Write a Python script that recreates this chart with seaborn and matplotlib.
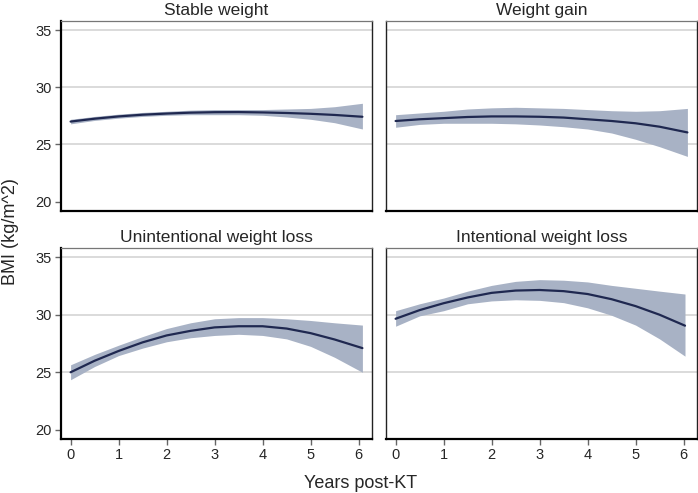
import numpy as np
import pandas as pd
import matplotlib
matplotlib.use("Agg")
import matplotlib.pyplot as plt
import seaborn as sns

# values
panels = ["Stable weight", "Weight gain", "Unintentional weight loss", "Intentional weight loss"]
years = [0, 0.5, 1, 1.5, 2, 2.5, 3, 3.5, 4, 4.5, 5, 5.5, 6.08]
years_int = [0, 0.5, 1, 1.5, 2, 2.5, 3, 3.5, 4, 4.5, 5, 5.5, 6.03]

stable_fit = [27.0, 27.25, 27.45, 27.6, 27.7, 27.78, 27.82, 27.83, 27.8, 27.75, 27.68, 27.58, 27.42]
stable_lo = [26.8, 27.1, 27.3, 27.45, 27.55, 27.6, 27.6, 27.6, 27.55, 27.4, 27.2, 26.9, 26.35]
stable_hi = [27.2, 27.45, 27.65, 27.8, 27.9, 28.0, 28.05, 28.05, 28.05, 28.1, 28.15, 28.3, 28.6]

gain_fit = [27.05, 27.2, 27.3, 27.4, 27.45, 27.45, 27.42, 27.35, 27.2, 27.05, 26.85, 26.55, 26.05]
gain_lo = [26.5, 26.75, 26.85, 26.85, 26.85, 26.8, 26.7, 26.55, 26.35, 26.0, 25.45, 24.8, 23.95]
gain_hi = [27.6, 27.75, 27.9, 28.1, 28.2, 28.25, 28.2, 28.15, 28.05, 27.95, 27.9, 27.95, 28.15]

unint_fit = [25.0, 26.0, 26.85, 27.6, 28.2, 28.6, 28.9, 29.0, 29.0, 28.8, 28.4, 27.85, 27.1]
unint_lo = [24.35, 25.5, 26.45, 27.1, 27.65, 28.0, 28.2, 28.3, 28.2, 27.9, 27.25, 26.3, 25.0]
unint_hi = [25.65, 26.55, 27.35, 28.1, 28.8, 29.3, 29.65, 29.75, 29.75, 29.65, 29.5, 29.3, 29.1]

int_fit = [29.65, 30.4, 31.0, 31.5, 31.9, 32.1, 32.15, 32.05, 31.8, 31.35, 30.75, 30.0, 29.05]
int_lo = [29.0, 29.9, 30.35, 30.95, 31.2, 31.3, 31.25, 31.05, 30.6, 29.95, 29.1, 27.9, 26.4]
int_hi = [30.35, 30.95, 31.45, 32.05, 32.55, 32.9, 33.05, 33.0, 32.85, 32.55, 32.3, 32.05, 31.8]

rows = []
for name, xs, fit, lo, hi in [
    (panels[0], years, stable_fit, stable_lo, stable_hi),
    (panels[1], years, gain_fit, gain_lo, gain_hi),
    (panels[2], years, unint_fit, unint_lo, unint_hi),
    (panels[3], years_int, int_fit, int_lo, int_hi),
]:
    for x, f, l, h in zip(xs, fit, lo, hi):
        rows.append({"panel": name, "years": x, "bmi": f, "lo": l, "hi": h})
df = pd.DataFrame(rows)

sns.set_style("white")
plt.rcParams["font.family"] = ["Liberation Sans", "DejaVu Sans"]

W, H = 698, 493
fig = plt.figure(figsize=(W / 100, H / 100), dpi=100)

# panel boxes in pixels: (left, top, right, bottom)
boxes = [(61, 21, 372, 210.7), (386, 21, 697, 210.7),
         (61, 248, 372, 439), (386, 248, 697, 439)]

line_col = "#1f2850"
band_col = "#a8b2c5"

for i, (name, (l, t, r, b)) in enumerate(zip(panels, boxes)):
    ax = fig.add_axes([l / W, 1 - b / H, (r - l) / W, (b - t) / H])
    sub = df[df["panel"] == name]
    for y in [25, 30, 35]:
        ax.axhline(y, color="#d8d8d8", lw=1.3, zorder=0)
    ax.fill_between(sub["years"], sub["lo"], sub["hi"], color=band_col, lw=0, zorder=1)
    sns.lineplot(data=sub, x="years", y="bmi", ax=ax, color=line_col, lw=1.6, zorder=2)
    ax.set_xlim(-0.2, 6.28)
    ax.set_ylim(19.2, 35.8)
    ax.set_xticks(range(0, 7))
    ax.set_yticks([20, 25, 30, 35])
    ax.set_xlabel("")
    ax.set_ylabel("")
    ax.set_title(name, fontsize=12.5, pad=4)

    left_col = i % 2 == 0
    bottom_row = i >= 2
    ax.spines["top"].set_linewidth(0.9)
    ax.spines["top"].set_color("#777777")
    ax.spines["right"].set_linewidth(1.0)
    ax.spines["right"].set_color("#222222")
    ax.spines["bottom"].set_linewidth(1.6)
    ax.spines["bottom"].set_color("black")
    if left_col:
        ax.spines["left"].set_linewidth(1.6)
        ax.spines["left"].set_color("black")
    else:
        ax.spines["left"].set_linewidth(1.0)
        ax.spines["left"].set_color("#222222")

    ax.tick_params(axis="both", direction="out", length=4, width=1,
                   color="#666666", labelsize=10.5, pad=2.5)
    if not left_col:
        ax.tick_params(axis="y", left=False, labelleft=False)
    else:
        ax.tick_params(axis="y", left=True)
    if not bottom_row:
        ax.tick_params(axis="x", bottom=False, labelbottom=False)
    else:
        ax.tick_params(axis="x", bottom=True)

fig.text(11 / W, 1 - 232 / H, "BMI (kg/m^2)", rotation=90, ha="center", va="center", fontsize=13)
fig.text(361 / W, 1 - 483 / H, "Years post-KT", ha="center", va="center", fontsize=13)

fig.savefig("out.png", dpi=100)
